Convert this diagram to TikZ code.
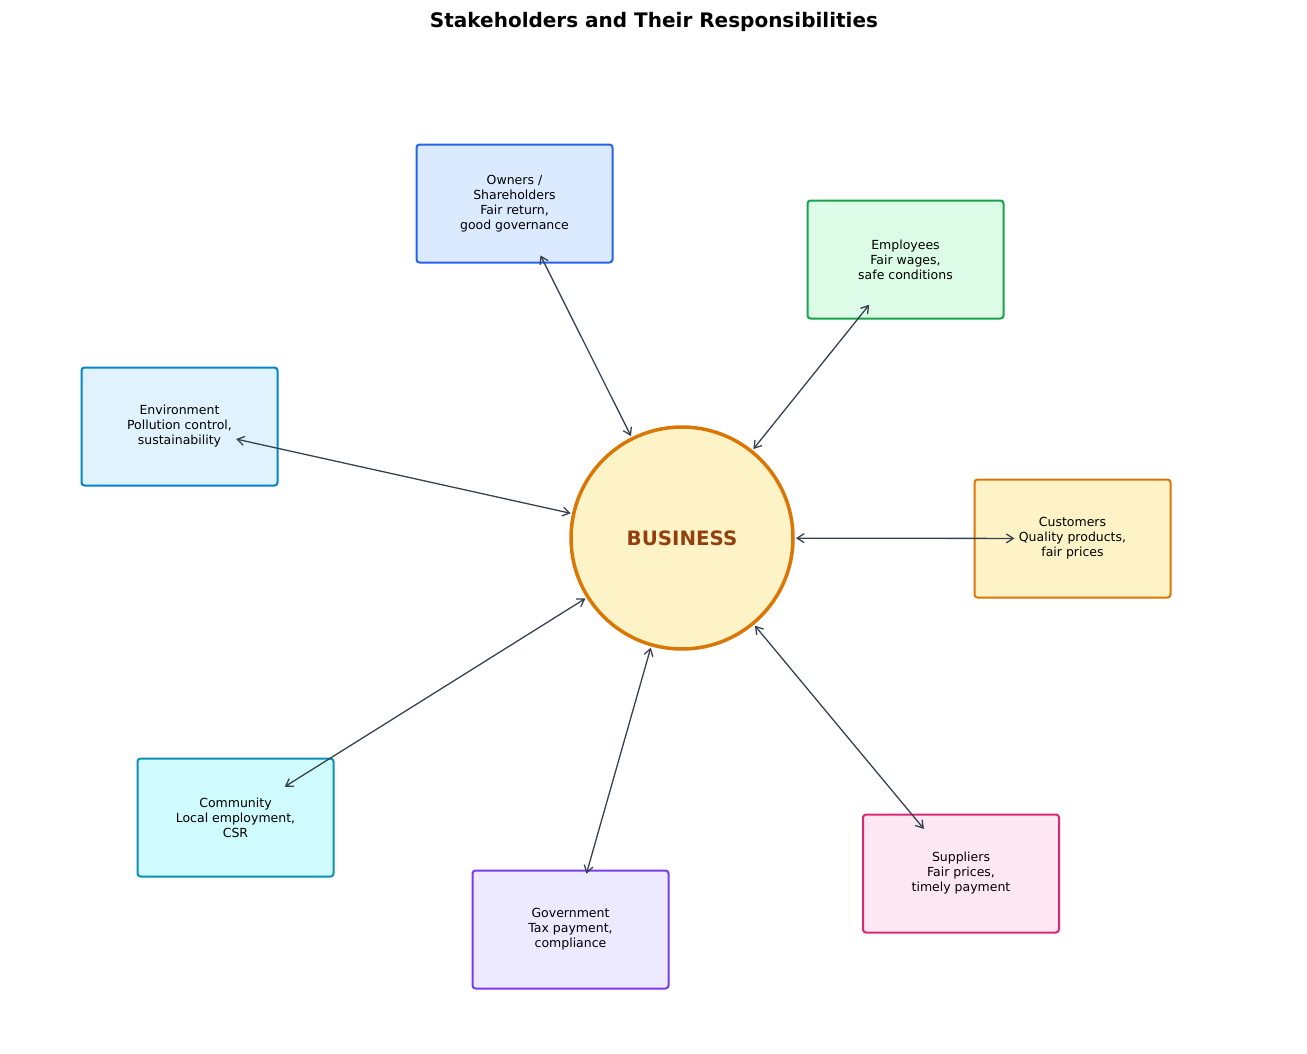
\documentclass[tikz,border=0pt]{standalone}
\usepackage{fontspec}
\setmainfont{DejaVu Sans}
\usetikzlibrary{arrows.meta}
\definecolor{arrowc}{HTML}{374151}
\definecolor{bizfill}{HTML}{FEF3C7}
\definecolor{bizdraw}{HTML}{D97706}
\definecolor{biztext}{HTML}{92400E}
\definecolor{ownd}{HTML}{2563EB}\definecolor{ownf}{HTML}{DBEAFE}
\definecolor{empd}{HTML}{16A34A}\definecolor{empf}{HTML}{DCFCE7}
\definecolor{envd}{HTML}{0284C7}\definecolor{envf}{HTML}{E0F2FE}
\definecolor{cusd}{HTML}{D97706}\definecolor{cusf}{HTML}{FEF3C7}
\definecolor{comd}{HTML}{0891B2}\definecolor{comf}{HTML}{CFFAFE}
\definecolor{govd}{HTML}{7C3AED}\definecolor{govf}{HTML}{EDE9FE}
\definecolor{supd}{HTML}{DB2777}\definecolor{supf}{HTML}{FCE7F3}
\begin{document}
\begin{tikzpicture}[x=1pt,y=-1pt,
  stakebox/.style={draw, line width=2pt, rounded corners=3pt, minimum width=196pt, minimum height=118pt, align=center, font=\fontsize{12.5}{15}\selectfont, inner sep=0pt},
  conn/.style={{Straight Barb[length=7pt,width=9pt]}-{Straight Barb[length=7pt,width=9pt]}, draw=arrowc, line width=1.3pt, shorten <=114pt, shorten >=58pt}]
\useasboundingbox (0,0) rectangle (1307,1053);
\node[font=\bfseries\fontsize{20}{24}\selectfont] (title) at (654,22) {Stakeholders and Their Responsibilities};
\node[circle, draw=bizdraw, fill=bizfill, line width=3.5pt, minimum size=222pt, inner sep=0pt, text=biztext, font=\bfseries\fontsize{19.8}{24}\selectfont] (biz) at (682,538) {BUSINESS};
\node[stakebox, draw=ownd, fill=ownf] (own) at (514.5,203.5) {Owners /\\Shareholders\\Fair return,\\good governance};
\node[stakebox, draw=empd, fill=empf] (emp) at (905.5,259.5) {Employees\\Fair wages,\\safe conditions};
\node[stakebox, draw=envd, fill=envf] (env) at (179.5,426.5) {Environment\\Pollution control,\\sustainability};
\node[stakebox, draw=cusd, fill=cusf] (cus) at (1072.5,538.5) {Customers\\Quality products,\\fair prices};
\node[stakebox, draw=comd, fill=comf] (com) at (235.5,817.5) {Community\\Local employment,\\CSR};
\node[stakebox, draw=govd, fill=govf] (gov) at (570.5,929.5) {Government\\Tax payment,\\compliance};
\node[stakebox, draw=supd, fill=supf] (sup) at (961,873.5) {Suppliers\\Fair prices,\\timely payment};
\foreach \b in {own,emp,env,cus,com,gov,sup}
  \draw[conn] (biz.center) -- (\b.center);
\end{tikzpicture}
\end{document}
